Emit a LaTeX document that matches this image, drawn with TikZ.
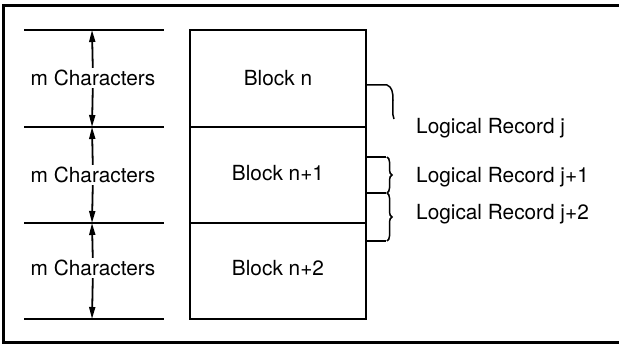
\documentclass[tikz,border=0pt]{standalone}
\usepackage{fontspec}
\setmainfont{TeX Gyre Heros}
\usetikzlibrary{arrows.meta,decorations.pathreplacing}

\tikzset{
  txt/.style={font=\fontsize{20.8}{24}\selectfont, inner sep=2pt},
  rule/.style={line width=2pt},
  dim/.style={line width=1.8pt, -{Triangle[length=12pt,width=6pt]}},
  recbrace/.style={line width=1.5pt, decorate, decoration={brace,amplitude=5pt}}
}

\begin{document}
\begin{tikzpicture}[x=1pt,y=-1pt]
\useasboundingbox (0,0) rectangle (619,345);
% frame, right side runs off the page
\draw [line width=3pt] (624,6) -- (3.5,6) -- (3.5,342) -- (624,342);

% size lines on the left
\foreach \y in {30,127,223,319}
  \draw [rule] (24,\y) -- (164,\y);
\coordinate (c0) at (92,30);
\coordinate (c1) at (92,127);
\coordinate (c2) at (92,223);
\coordinate (c3) at (92,319);

\node [txt] (mch0) at (93,78) {m Characters};
\node [txt] (mch1) at (93,175) {m Characters};
\node [txt] (mch2) at (93,268) {m Characters};

\draw [dim] (mch0) -- (c0);
\draw [dim] (mch0) -- (c1);
\draw [dim] (mch1) -- (c1);
\draw [dim] (mch1) -- (c2);
\draw [dim] (mch2) -- (c2);
\draw [dim] (mch2) -- (c3);

% the blocks
\draw [rule] (190,30) rectangle (366,319);
\draw [rule] (190,127) -- (366,127);
\draw [rule] (190,223) -- (366,223);
\node [txt] (blkn) at (278,78) {Block n};
\node [txt] (blkn1) at (278,173) {Block n+1};
\node [txt] (blkn2) at (278,268) {Block n+2};

% logical records
\draw [line width=1.5pt] (366,85) -- (387,85)
  .. controls (392,87) and (393,92) .. (393,100)
  .. controls (393,108) and (392,114) .. (394,119);
\draw [line width=1.5pt] (366,157) -- (386,157);
\draw [line width=1.5pt] (366,193) -- (386,193);
\draw [line width=1.5pt] (366,241) -- (386,241);
\draw [recbrace] (387,157) -- (387,193);
\draw [recbrace] (387,193) -- (387,241);

\node [txt, anchor=west] (recj) at (414,128) {Logical Record j};
\node [txt, anchor=west] (recj1) at (414,177) {Logical Record j+1};
\node [txt, anchor=west] (recj2) at (414,214) {Logical Record j+2};
\end{tikzpicture}
\end{document}
